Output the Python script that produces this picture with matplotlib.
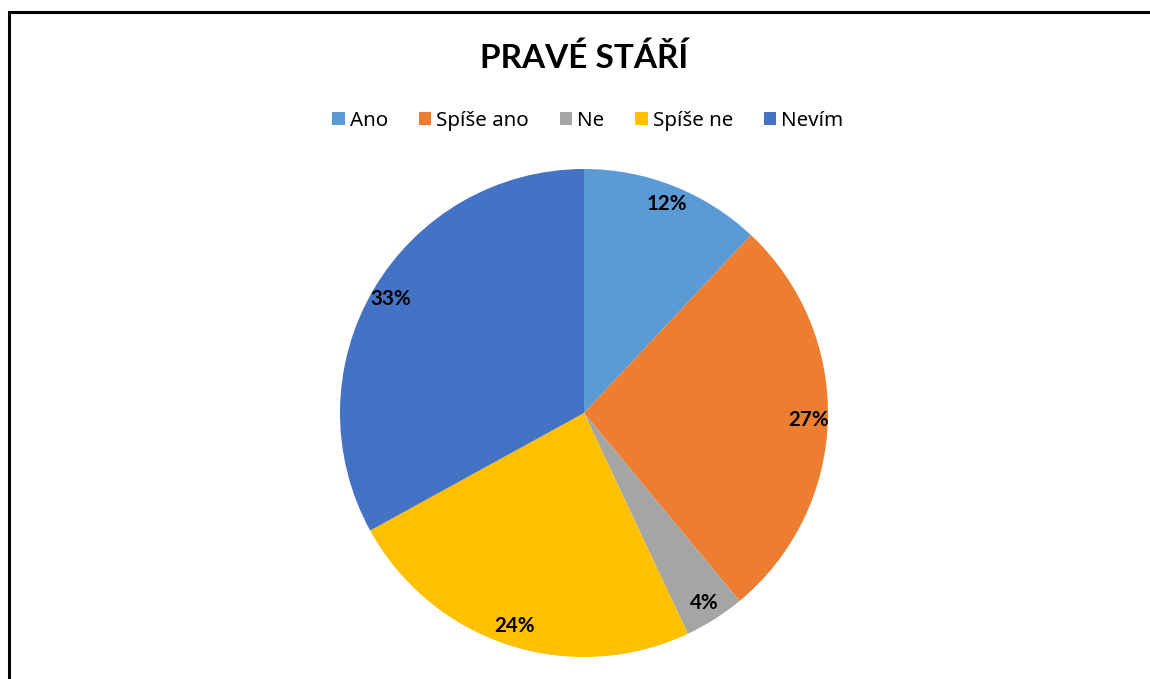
import matplotlib
matplotlib.use("Agg")
import matplotlib.pyplot as plt
from matplotlib.patches import Rectangle

categories = ["Ano", "Spíše ano", "Ne", "Spíše ne", "Nevím"]
shares = [12, 27, 4, 24, 33]
colors = ["#5B9BD5", "#ED7D31", "#A5A5A5", "#FFC000", "#4472C4"]
title = "PRAVÉ STÁŘÍ"

plt.rcParams["font.family"] = ["Noto Sans", "DejaVu Sans"]
bold_family = ["Lato", "DejaVu Sans"]

W, H = 1150, 679
fig = plt.figure(figsize=(W / 100, H / 100), dpi=100)
fig.patch.set_facecolor("white")

# pie area: centre (584, 413) px, radius 244 px
cx, cy, r = 584, 413, 244
ax = fig.add_axes([(cx - r) / W, 1 - (cy + r) / H, 2 * r / W, 2 * r / H])

wedges, texts, autotexts = ax.pie(
    shares, colors=colors, startangle=90, counterclock=False,
    autopct=lambda p: "{:.0f}%".format(p), pctdistance=0.92,
    wedgeprops=dict(linewidth=0),
    textprops=dict(fontsize=14.8, fontweight="bold", color="black",
                   family=bold_family))
ax.set_xlim(-1, 1)
ax.set_ylim(-1, 1)
ax.set_aspect("equal")

fig.text(cx / W, 1 - 58 / H, title, ha="center", va="center",
         fontsize=24, fontweight="bold", color="black", family=bold_family)

fig.legend(wedges, categories, loc="center", bbox_to_anchor=(588 / W, 1 - 121 / H),
           ncol=len(categories), frameon=False, fontsize=14.8,
           handlelength=0.6, handleheight=0.6, handletextpad=0.25,
           columnspacing=1.5, borderaxespad=0)

# frame around the chart (left and top edges visible)
fig.add_artist(Rectangle((8.5 / W, -0.5), 2, 1.5 - 12 / H,
                         transform=fig.transFigure, fill=False,
                         edgecolor="black", linewidth=2.2))

fig.savefig("out.png", dpi=100, facecolor="white")
